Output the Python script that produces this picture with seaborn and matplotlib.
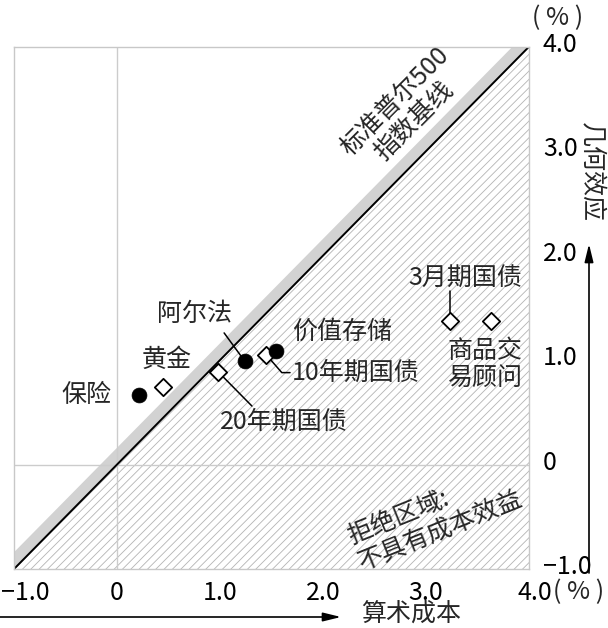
import numpy as np
import pandas as pd
import seaborn as sns
import matplotlib.pyplot as plt
from matplotlib.transforms import ScaledTranslation

# data
assets = ['保险', '黄金', '20年期国债', '阿尔法', '10年期国债', '价值存储', '3月期国债', '商品交易顾问']
arith_cost = [0.21, 0.45, 0.98, 1.24, 1.45, 1.54, 3.23, 3.63]
geo_effect = [0.67, 0.74, 0.89, 0.99, 1.05, 1.09, 1.37, 1.37]
kind = ['circle', 'diamond', 'diamond', 'circle', 'diamond', 'circle', 'diamond', 'diamond']

baseline = [-1.0, 4.0]
band_width = 0.17
ticks = [-1, 0, 1, 2, 3, 4]
xtick_labels = ['−1.0', '0', '1.0', '2.0', '3.0', '4.0']
ytick_labels = ['−1.0', '0', '1.0', '2.0', '3.0', '4.0']
unit = '( % )'

df = pd.DataFrame({'asset': assets, 'cost': arith_cost, 'effect': geo_effect, 'kind': kind})

sns.set_theme(style='white')
plt.rcParams['font.family'] = ['Noto Sans CJK SC', 'DejaVu Sans']
plt.rcParams['font.weight'] = 'medium'
plt.rcParams['hatch.linewidth'] = 0.6
plt.rcParams['axes.unicode_minus'] = True

fs = 18
W, H = 608, 628
fig = plt.figure(figsize=(W / 100, H / 100), dpi=100)
ax = fig.add_axes([14 / W, 1 - 569 / H, 515 / W, 522.3 / H])

# rejection region (hatched) and the S&P baseline band
b = np.array(baseline)
ax.fill_between(b, b, [-1, -1], facecolor='white', edgecolor='#b4b4b4', hatch='////', linewidth=0, zorder=0)
ax.fill_between(b, b, b + band_width, color='#d2d2d2', linewidth=0, zorder=1)
ax.axvline(0, color='#cccccc', lw=1, zorder=1.5)
ax.axhline(0, color='#cccccc', lw=1, zorder=1.5)
sns.lineplot(x=baseline, y=baseline, color='black', lw=1.4, ax=ax, zorder=2)

# leader lines
p = df.set_index('asset')
def lead(name, dx, dy, extra=None):
    x0, y0 = p.loc[name, 'cost'], p.loc[name, 'effect']
    xs, ys = [x0, x0 + dx], [y0, y0 + dy]
    if extra is not None:
        xs.append(x0 + dx + extra)
        ys.append(y0 + dy)
    ax.plot(xs, ys, color='black', lw=1.1, zorder=3)

lead('阿尔法', -0.20, 0.27)
lead('20年期国债', 0.33, -0.33)
lead('10年期国债', 0.15, -0.17, extra=0.08)
lead('3月期国债', 0.0, 0.29)

dia = df[df['kind'] == 'diamond']
cir = df[df['kind'] == 'circle']
sns.scatterplot(data=dia, x='cost', y='effect', marker='D', s=78, color='white',
                edgecolor='black', linewidth=1.3, ax=ax, zorder=4, legend=False)
sns.scatterplot(data=cir, x='cost', y='effect', marker='o', s=115, color='black',
                edgecolor='black', linewidth=0.5, ax=ax, zorder=5, legend=False)

# point labels
ax.text(-0.30, 0.67, '保险', fontsize=fs, ha='center', va='center')
ax.text(0.48, 1.00, '黄金', fontsize=fs, ha='center', va='center')
ax.text(0.75, 1.44, '阿尔法', fontsize=fs, ha='center', va='center')
ax.text(2.19, 1.27, '价值存储', fontsize=fs, ha='center', va='center')
ax.text(1.70, 0.875, '10年期国债', fontsize=fs, ha='left', va='center')
ax.text(1.62, 0.405, '20年期国债', fontsize=fs, ha='center', va='center')
ax.text(3.38, 1.78, '3月期国债', fontsize=fs, ha='center', va='center')
ax.text(3.57, 0.955, '商品交\n易顾问', fontsize=fs, ha='center', va='center', linespacing=1.1)

ax.text(2.79, 3.38, '标准普尔500\n指数基线', fontsize=fs, ha='center', va='center',
        rotation=45, rotation_mode='anchor', multialignment='center', linespacing=1.05)
ax.text(3.09, -0.51, '拒绝区域:\n不具有成本效益', fontsize=fs, ha='center', va='center',
        rotation=22, rotation_mode='anchor', multialignment='left', linespacing=1.05)

# axes styling
ax.set_xlim(-1, 4)
ax.set_ylim(-1, 4)
ax.set_xticks(ticks, xtick_labels)
ax.set_yticks(ticks, ytick_labels)
ax.yaxis.tick_right()
ax.tick_params(axis='both', length=0, labelsize=fs, colors='black')
ax.tick_params(axis='x', pad=8)
ax.tick_params(axis='y', pad=10)
ax.set_xlabel('')
ax.set_ylabel('')
for s in ax.spines.values():
    s.set_color('#c8c8c8')
    s.set_linewidth(1)

xl = ax.get_xticklabels()
xl[0].set_transform(xl[0].get_transform() + ScaledTranslation(11 / 100, 0, fig.dpi_scale_trans))
xl[-1].set_transform(xl[-1].get_transform() + ScaledTranslation(6 / 100, 0, fig.dpi_scale_trans))
for lab in ax.get_yticklabels():
    lab.set_transform(lab.get_transform() + ScaledTranslation(0, 5 / 100, fig.dpi_scale_trans))

# units, axis titles and arrows
fig.text(579 / W, 1 - 592 / H, unit, fontsize=fs, ha='center', va='center')
fig.text(558 / W, 1 - 18 / H, unit, fontsize=fs, ha='center', va='center')
fig.text(590 / W, 1 - 172 / H, '几何效应', fontsize=fs, ha='center', va='center', rotation=270)
fig.text(411 / W, 1 - 614 / H, '算术成本', fontsize=fs, ha='center', va='center')
arrow = dict(arrowstyle='-|>,head_length=0.9,head_width=0.22', color='black', lw=1.2,
             shrinkA=0, shrinkB=0)
ax.annotate('', xy=(589 / W, 1 - 244 / H), xytext=(589 / W, 1 - 573 / H),
            xycoords='figure fraction', textcoords='figure fraction', arrowprops=arrow)
ax.annotate('', xy=(341 / W, 1 - 617 / H), xytext=(0, 1 - 617 / H),
            xycoords='figure fraction', textcoords='figure fraction', arrowprops=arrow)

fig.savefig('out.png', dpi=100)
